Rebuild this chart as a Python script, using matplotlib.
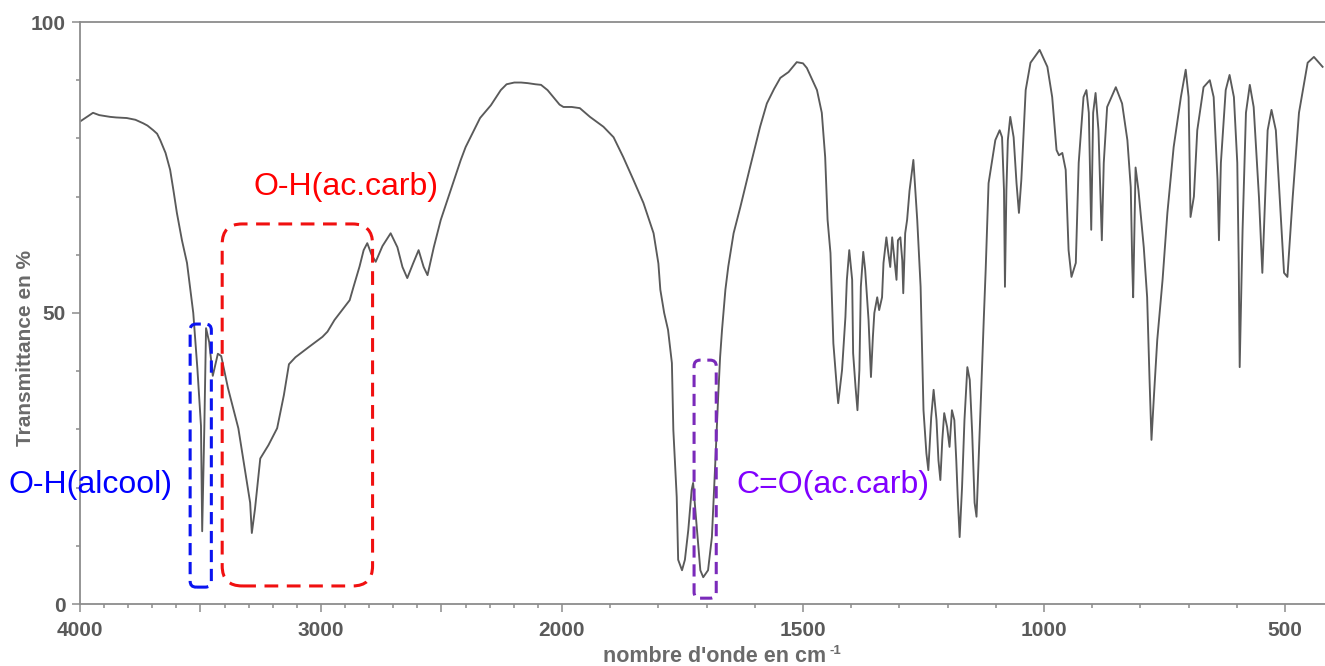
import numpy as np
import matplotlib
matplotlib.use('Agg')
import matplotlib.pyplot as plt
from matplotlib.patches import FancyBboxPatch
from matplotlib.ticker import FixedLocator, FixedFormatter, MultipleLocator
from matplotlib.transforms import IdentityTransform

plt.rcParams['font.family'] = ['Liberation Sans', 'DejaVu Sans']

# spectrum: wavenumber (cm-1) and transmittance (%)
# part above 2000 cm-1
wn_high = [
    4000, 3946, 3920, 3875, 3850, 3806, 3770, 3738, 3720, 3696,
    3680, 3667, 3645, 3626, 3612, 3598, 3577, 3556, 3545, 3530,
    3513, 3498, 3493, 3484, 3477, 3464, 3449, 3428, 3414, 3386,
    3343, 3316, 3294, 3287, 3274, 3252, 3218, 3182, 3154, 3133,
    3106, 3049, 2994, 2973, 2944, 2881, 2865, 2840, 2823, 2808,
    2790, 2773, 2745, 2711, 2683, 2662, 2642, 2618, 2595, 2574,
    2558, 2532, 2503, 2462, 2420, 2400, 2340, 2295, 2270, 2254,
    2230, 2198, 2170, 2143, 2110, 2087, 2060, 2032, 2010,
]
t_high = [
    82.9, 84.4, 84.0, 83.7, 83.6, 83.5, 83.2, 82.6, 82.2, 81.4,
    80.8, 79.7, 77.5, 74.6, 71.0, 67.2, 62.5, 58.6, 55.0, 50.0,
    40.5, 30.6, 12.5, 30.6, 47.4, 45.0, 39.2, 43.0, 42.6, 37.1,
    30.2, 23.2, 17.4, 12.2, 16.3, 25.0, 27.3, 30.2, 35.9, 41.2,
    42.4, 44.2, 45.9, 46.8, 48.8, 52.2, 54.5, 58.0, 60.8, 62.0,
    60.0, 58.8, 61.5, 63.7, 61.3, 57.9, 56.0, 58.5, 60.8, 57.9,
    56.5, 61.3, 66.0, 71.1, 76.3, 78.5, 83.5, 85.7, 87.3, 88.3,
    89.3, 89.6, 89.6, 89.5, 89.3, 89.2, 88.3, 86.9, 85.8,
]
# part below 2000 cm-1
wn_low = [
    1997, 1980, 1963, 1942, 1914, 1893, 1873, 1852, 1831, 1810,
    1800, 1796, 1788, 1780, 1772, 1769, 1762, 1759, 1751, 1745,
    1738, 1731, 1728, 1720, 1713, 1707, 1697, 1689, 1682, 1676,
    1672, 1668, 1661, 1655, 1644, 1630, 1610, 1589, 1575, 1560,
    1547, 1530, 1513, 1500, 1492, 1471, 1461, 1454, 1449, 1443,
    1437, 1429, 1427, 1419, 1412, 1409, 1404, 1398, 1396, 1391,
    1387, 1383, 1380, 1375, 1371, 1364, 1359, 1355, 1352, 1346,
    1342, 1336, 1333, 1327, 1323, 1319, 1315, 1310, 1306, 1303,
    1298, 1294, 1292, 1288, 1284, 1279, 1271, 1263, 1256, 1250,
    1244, 1240, 1234, 1229, 1223, 1219, 1215, 1211, 1207, 1201,
    1196, 1191, 1186, 1182, 1179, 1175, 1170, 1165, 1159, 1154,
    1149, 1144, 1140, 1135, 1130, 1125, 1121, 1115, 1101, 1092,
    1087, 1083, 1081, 1078, 1075, 1070, 1063, 1057, 1052, 1047,
    1043, 1038, 1028, 1009, 993, 983, 974, 969, 962, 955,
    949, 943, 934, 928, 918, 912, 907, 902, 898, 893,
    887, 880, 876, 869, 851, 838, 827, 820, 817, 815,
    810, 804, 793, 786, 781, 777, 772, 765, 754, 744,
    731, 716, 706, 700, 696, 689, 682, 669, 656, 648,
    640, 637, 633, 623, 615, 606, 599, 596, 594, 588,
    581, 573, 565, 554, 547, 536, 528, 519, 511, 502,
    495, 484, 471, 453, 440, 422,
]
t_low = [
    85.4, 85.4, 85.2, 83.7, 82.0, 80.2, 76.8, 72.9, 68.9, 63.7,
    58.5, 54.0, 50.0, 47.1, 41.4, 29.9, 18.4, 7.6, 5.8, 7.6,
    12.7, 19.6, 20.8, 12.7, 5.8, 4.6, 5.8, 11.5, 24.2, 35.6,
    42.4, 47.1, 54.0, 58.0, 63.7, 68.2, 75.0, 82.0, 86.0, 88.5,
    90.4, 91.4, 93.1, 92.9, 92.1, 88.3, 84.4, 76.8, 66.0, 60.3,
    44.8, 36.3, 34.5, 40.2, 49.3, 55.7, 60.8, 55.7, 43.1, 37.3,
    33.3, 40.2, 54.5, 60.5, 57.4, 48.8, 39.0, 45.9, 50.0, 52.7,
    50.5, 52.7, 58.6, 63.0, 60.3, 57.9, 63.0, 59.0, 55.7, 62.5,
    63.0, 59.0, 53.4, 63.7, 66.0, 71.0, 76.3, 66.0, 54.5, 33.3,
    25.9, 23.0, 32.1, 36.8, 31.6, 24.7, 21.3, 28.2, 32.8, 30.4,
    27.0, 33.3, 31.6, 24.7, 18.4, 11.5, 20.1, 31.6, 40.7, 38.5,
    29.4, 17.4, 15.0, 25.9, 37.3, 48.8, 57.4, 72.3, 79.7, 81.4,
    80.2, 71.1, 54.5, 71.1, 79.7, 83.7, 80.2, 72.3, 67.2, 72.9,
    79.7, 88.3, 93.0, 95.2, 92.3, 87.1, 78.0, 77.1, 77.5, 74.6,
    60.8, 56.2, 58.6, 75.8, 87.1, 88.3, 84.4, 64.3, 84.4, 87.8,
    81.4, 62.5, 75.8, 85.4, 88.8, 86.0, 79.7, 71.6, 58.6, 52.7,
    75.0, 71.1, 61.3, 52.7, 38.5, 28.2, 35.6, 45.4, 55.7, 67.2,
    78.5, 87.1, 91.8, 87.1, 66.5, 70.0, 81.4, 88.8, 90.0, 87.1,
    72.9, 62.5, 75.8, 88.3, 90.9, 87.1, 75.8, 58.6, 40.7, 64.3,
    84.4, 89.2, 85.4, 69.9, 56.9, 81.4, 84.9, 81.4, 69.9, 56.9,
    56.2, 69.9, 84.4, 93.0, 94.0, 92.3,
]

# annotated bands: (label, wn_high, wn_low, T_low, T_high, colour)
bands = [
    ('O-H(alcool)', 3543, 3455, 2.9, 48.1, '#0a14f0'),
    ('O-H(ac.carb)', 3410, 2786, 3.1, 65.3, '#f01010'),
    ('C=O(ac.carb)', 1726, 1680, 1.0, 41.9, '#7a2aba'),
]


# IR chart: scale doubles below 2000 cm-1
def fwd(w):
    w = np.asarray(w, dtype=float)
    return np.where(w >= 2000, w, 2 * w - 2000)


def inv(v):
    v = np.asarray(v, dtype=float)
    return np.where(v >= 2000, v, (v + 2000) / 2)


wavenumber = wn_high + wn_low
transmittance = t_high + t_low

fig = plt.figure(figsize=(13.25, 6.66), dpi=100)
ax = fig.add_axes([80 / 1325, 62 / 666, 1245 / 1325, 582 / 666])
ax.set_xscale('function', functions=(fwd, inv))
ax.plot(wavenumber, transmittance, color='#5a5a5a', lw=1.35)
ax.set_xlim(4000, 417)
ax.set_ylim(0, 100)

grey = '#8c8c8c'
for s in ['left', 'bottom', 'top']:
    ax.spines[s].set_color(grey)
    ax.spines[s].set_linewidth(1.3)
ax.spines['right'].set_visible(False)

xt = [4000, 3500, 3000, 2500, 2000, 1500, 1000, 500]
xl = ['4000', '', '3000', '', '2000', '1500', '1000', '500']
ax.xaxis.set_major_locator(FixedLocator(xt))
ax.xaxis.set_major_formatter(FixedFormatter(xl))
ax.xaxis.set_minor_locator(FixedLocator(list(range(4000, 400, -100))))
ax.yaxis.set_major_locator(FixedLocator([0, 50, 100]))
ax.yaxis.set_minor_locator(MultipleLocator(10))
ax.tick_params(axis='both', which='both', color=grey, width=1.1,
               labelcolor='#5a5a5a', labelsize=15)
ax.tick_params(axis='x', which='major', length=6, pad=6)
ax.tick_params(axis='x', which='minor', length=3)
ax.tick_params(axis='y', which='major', length=6, pad=4)
ax.tick_params(axis='y', which='minor', length=3)
for lab in ax.get_xticklabels() + ax.get_yticklabels():
    lab.set_fontweight('bold')

fig.text(715 / 1325, 1 - 657 / 666, "nombre d'onde en cm", ha='center', va='center',
         fontsize=15.5, fontweight='bold', color='#6a6a6a')
fig.text(829 / 1325, 1 - 651 / 666, '-1', ha='left', va='center',
         fontsize=9.5, fontweight='bold', color='#6a6a6a')
fig.text(26 / 1325, 1 - 348 / 666, 'Transmittance en %', rotation=90,
         ha='center', va='center', fontsize=15, fontweight='bold', color='#6a6a6a')

# dashed rounded boxes, drawn in pixels so the corners stay round
radius = [6, 20, 6]
dashes = [(0, (4, 2.2)), (0, (4.5, 2.8)), (0, (4, 2.2))]
for (name, w1, w2, t1, t2, col), r, ls in zip(bands, radius, dashes):
    x0, y0 = ax.transData.transform((w1, t1))
    x1, y1 = ax.transData.transform((w2, t2))
    box = FancyBboxPatch((x0, y0), x1 - x0, y1 - y0,
                         boxstyle='round,pad=0,rounding_size=%d' % r,
                         transform=IdentityTransform(), fill=False,
                         edgecolor=col, lw=2.2, ls=ls, clip_on=False)
    fig.add_artist(box)

ax.text(2898, 71.6, 'O-H(ac.carb)', color='#ff0000', fontsize=23,
        ha='center', va='center')
ax.text(1437, 20.4, 'C=O(ac.carb)', color='#8000ff', fontsize=23,
        ha='center', va='center')
fig.text(90 / 1325, 1 - 485 / 666, 'O-H(alcool)', color='#0000ff', fontsize=23,
         ha='center', va='center')

fig.savefig('out.png', dpi=100)
